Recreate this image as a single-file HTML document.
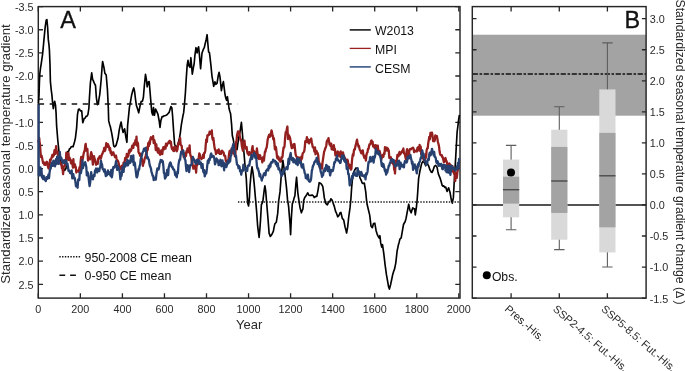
<!DOCTYPE html>
<html><head><meta charset="utf-8"><style>
html,body{margin:0;padding:0;background:#fff;width:685px;height:371px;overflow:hidden}
svg{display:block;will-change:transform}
</style></head><body>
<svg width="685" height="371" viewBox="0 0 685 371" font-family='"Liberation Sans", sans-serif'><rect width="685" height="371" fill="#fff"/><rect x="38.3" y="6.6" width="421.7" height="291.5" fill="none" stroke="#262626" stroke-width="1.45"/><path d="M38.3,6.60h4.7M460.0,6.60h-4.7M38.3,29.74h4.7M460.0,29.74h-4.7M38.3,52.88h4.7M460.0,52.88h-4.7M38.3,76.02h4.7M460.0,76.02h-4.7M38.3,99.16h4.7M460.0,99.16h-4.7M38.3,122.30h4.7M460.0,122.30h-4.7M38.3,145.44h4.7M460.0,145.44h-4.7M38.3,168.58h4.7M460.0,168.58h-4.7M38.3,191.72h4.7M460.0,191.72h-4.7M38.3,214.86h4.7M460.0,214.86h-4.7M38.3,238.00h4.7M460.0,238.00h-4.7M38.3,261.14h4.7M460.0,261.14h-4.7M38.3,284.28h4.7M460.0,284.28h-4.7M38.30,298.1v-4.8M38.30,6.6v4.8M80.35,298.1v-4.8M80.35,6.6v4.8M122.40,298.1v-4.8M122.40,6.6v4.8M164.45,298.1v-4.8M164.45,6.6v4.8M206.50,298.1v-4.8M206.50,6.6v4.8M248.55,298.1v-4.8M248.55,6.6v4.8M290.60,298.1v-4.8M290.60,6.6v4.8M332.65,298.1v-4.8M332.65,6.6v4.8M374.70,298.1v-4.8M374.70,6.6v4.8M416.75,298.1v-4.8M416.75,6.6v4.8M458.80,298.1v-4.8M458.80,6.6v4.8" stroke="#262626" stroke-width="1.3" fill="none"/><polyline points="38.5,103.3 39.0,95.1 39.4,82.6 39.8,73.8 40.5,68.2 41.2,63.8 42.5,54.8 43.2,47.9 44.0,39.1 45.2,26.9 46.2,20.2 46.9,19.6 47.6,27.0 48.3,39.4 49.0,45.1 49.4,49.9 50.0,64.5 50.4,81.5 51.2,89.6 51.9,94.9 52.6,102.8 53.3,108.7 54.0,103.8 54.7,101.3 55.5,105.1 56.1,113.4 56.6,125.7 57.8,140.3 58.9,151.0 60.3,160.9 61.1,162.5 62.0,165.7 63.3,168.1 64.6,170.5 66.0,168.5 67.4,152.0 68.8,151.0 69.5,148.8 70.3,148.5 71.2,146.7 72.2,146.6 73.1,146.7 74.5,142.0 75.4,138.1 76.6,128.1 77.5,114.4 78.5,109.2 79.5,109.1 80.4,111.0 81.7,110.9 82.8,122.7 84.2,118.6 85.1,118.1 86.0,116.4 87.0,116.2 87.9,114.7 88.9,108.0 89.4,98.2 90.4,82.8 91.7,72.8 92.6,79.3 93.5,81.1 94.5,83.7 95.5,85.5 96.4,98.0 97.4,104.7 98.3,103.6 99.0,98.9 99.8,94.1 101.1,80.5 102.1,66.8 102.6,61.5 104.0,67.8 104.9,73.3 106.2,75.0 107.4,89.1 108.3,107.8 108.7,120.9 109.6,124.4 110.3,126.5 111.7,133.2 112.7,139.0 113.7,146.0 114.8,146.8 116.0,145.4 117.0,142.1 118.0,138.6 119.2,130.2 120.3,125.0 121.1,122.0 122.2,128.4 123.1,132.5 123.8,130.8 124.6,128.8 126.0,137.8 126.9,142.3 127.6,125.7 128.5,116.7 129.4,107.4 130.3,102.8 131.7,94.7 132.9,90.2 133.8,87.9 134.6,91.5 135.5,99.2 136.4,105.6 137.6,109.0 138.7,112.8 139.9,106.5 141.1,101.6 142.5,101.1 143.4,97.2 144.3,86.3 145.5,74.4 146.4,79.5 147.2,86.8 148.3,81.9 149.2,81.5 150.0,91.2 150.9,102.1 151.8,112.3 152.7,115.0 153.5,107.5 154.4,115.3 155.6,109.1 156.9,111.9 157.9,114.1 159.2,121.0 160.0,127.4 160.9,120.4 162.1,116.6 163.0,116.7 163.9,115.9 164.8,115.8 165.6,115.5 167.0,114.8 167.9,113.7 169.1,112.4 170.0,109.4 170.9,106.5 171.9,108.0 172.6,116.0 173.7,132.3 174.6,144.2 176.0,147.7 177.0,146.3 178.0,144.1 179.2,139.8 180.3,133.1 181.3,125.1 181.9,121.7 182.8,116.5 183.7,112.4 184.5,103.9 185.4,92.8 186.3,77.9 187.2,64.9 188.0,60.3 188.9,65.8 190.0,67.3 190.9,57.7 192.3,74.2 193.4,67.6 194.2,63.3 194.9,55.3 196.0,47.7 197.1,52.9 197.8,48.7 198.6,46.8 199.4,54.7 200.6,68.8 202.0,53.0 203.4,49.2 204.3,47.6 205.1,44.0 206.2,39.5 207.1,34.7 208.0,45.3 208.6,52.0 209.4,52.4 210.2,58.8 210.9,65.2 212.0,76.3 212.8,80.8 213.7,86.3 214.9,81.9 216.0,84.3 217.1,83.1 218.2,76.0 219.1,72.3 220.0,76.9 221.4,90.6 222.4,85.2 223.4,81.6 224.3,88.9 225.1,95.0 225.8,98.1 226.6,100.3 227.4,96.7 228.3,103.0 229.1,108.8 229.8,111.3 230.6,113.8 231.6,124.6 232.3,135.5 233.4,140.0 234.4,147.6 235.7,147.2 237.1,149.6 237.8,144.0 238.6,138.7 240.0,131.8 241.4,122.4 242.3,132.3 243.4,146.0 244.3,156.7 245.1,166.7 246.3,178.6 247.0,192.6 247.7,203.2 248.6,205.9 249.4,198.2 250.0,185.9 251.0,174.6 252.0,166.8 253.0,172.6 253.7,178.6 254.5,187.1 255.3,196.5 256.6,211.4 257.7,226.7 259.1,237.4 260.0,227.6 260.6,218.7 261.4,204.5 262.1,203.5 262.9,201.0 264.3,189.4 264.9,185.8 265.7,190.9 266.6,202.2 268.0,218.7 269.1,233.1 270.3,236.4 271.1,235.4 272.0,234.2 273.4,231.2 274.1,227.1 274.9,223.8 276.3,222.3 277.7,213.4 278.6,201.5 280.0,191.9 281.3,175.0 282.1,168.1 282.9,160.4 284.0,168.0 285.1,175.2 286.5,187.6 287.5,199.4 288.6,206.4 290.0,223.5 290.6,234.7 291.4,217.3 292.3,203.9 293.4,200.9 294.1,198.1 294.9,195.7 295.8,184.7 296.6,177.2 297.3,186.0 297.8,192.5 298.6,198.4 300.0,207.6 301.4,212.8 302.1,210.7 302.9,209.1 303.7,200.6 304.7,197.5 305.7,196.2 306.7,194.6 307.7,192.8 308.9,195.2 310.0,195.5 311.0,195.4 312.0,194.9 313.1,195.6 314.3,197.5 315.7,196.3 316.8,196.4 318.0,190.3 319.2,182.7 320.4,183.2 321.6,184.4 322.8,186.7 323.6,192.1 324.3,197.7 325.7,203.2 326.5,204.2 327.4,204.8 328.2,203.0 329.1,201.3 330.0,201.2 330.9,198.8 331.9,199.8 332.9,202.5 334.3,206.4 335.5,211.1 336.6,213.5 337.7,216.8 338.5,216.2 339.4,214.7 340.1,212.7 340.9,212.4 342.3,218.4 343.7,220.0 345.1,227.2 345.9,229.8 346.6,233.0 347.7,226.8 348.6,218.0 350.0,207.9 350.9,199.0 351.6,188.3 352.9,174.1 353.9,171.9 354.9,169.7 356.0,167.9 357.1,168.4 357.9,169.2 358.6,170.9 360.0,177.9 361.4,180.8 362.1,182.9 362.9,183.5 364.3,183.0 365.7,191.7 366.6,200.8 367.1,204.3 368.4,209.7 369.7,215.1 371.0,226.1 372.3,227.7 373.5,223.5 374.8,223.2 376.1,230.7 377.0,233.6 377.9,235.9 379.2,238.1 379.9,235.7 380.7,242.9 381.7,247.1 382.5,244.7 383.8,253.7 385.1,264.8 386.4,274.4 387.6,281.2 388.5,286.4 389.4,289.1 390.7,284.2 392.0,278.0 392.8,274.2 393.7,271.2 394.6,268.9 395.8,262.8 397.1,251.2 398.4,244.8 399.1,242.4 399.9,239.1 401.2,237.8 402.3,231.4 403.5,224.5 404.3,223.0 405.1,221.7 406.1,218.2 407.4,211.1 408.7,204.2 409.9,210.2 411.2,212.8 412.0,210.1 412.8,207.8 413.7,208.8 414.6,208.9 415.3,214.9 416.4,207.1 417.1,200.5 417.6,193.8 418.6,178.7 420.0,170.7 421.4,164.6 422.1,162.6 422.9,161.4 424.3,162.5 425.7,165.8 427.1,162.5 427.9,164.8 428.6,165.7 430.0,169.9 431.4,172.2 432.1,172.4 432.9,170.7 434.3,166.4 435.7,165.4 437.1,167.4 437.9,171.7 438.6,174.7 440.0,177.8 441.4,182.5 442.1,185.2 442.9,186.1 443.8,185.8 444.8,187.5 445.7,187.1 447.1,191.5 447.9,189.3 448.6,187.8 450.0,192.2 451.4,200.3 452.3,203.1 453.4,197.4 454.3,180.4 455.7,157.4 457.1,132.1 457.9,126.1 458.6,119.9 459.4,115.0" fill="none" stroke="#000" stroke-width="1.65" stroke-linejoin="round"/><polyline points="38.3,140.2 38.7,142.4 39.2,137.9 39.6,141.7 40.0,144.8 40.4,150.5 40.9,157.0 41.5,155.6 42.0,157.4 42.6,160.6 43.1,163.0 43.7,162.3 44.2,164.6 44.8,162.6 45.3,164.9 45.8,164.5 46.4,162.4 46.9,161.8 47.4,162.9 48.0,167.0 48.5,168.5 49.0,166.0 49.6,164.7 50.1,159.7 50.7,160.1 51.2,158.5 51.8,157.4 52.3,155.0 52.9,156.7 53.4,154.3 53.9,155.4 54.5,150.2 55.0,149.9 55.5,153.8 56.1,146.1 56.6,151.0 57.1,151.7 57.7,152.0 58.2,155.2 58.7,158.1 59.3,161.8 59.8,161.9 60.4,162.8 60.9,164.4 61.5,165.2 62.0,168.7 62.6,168.9 63.1,174.2 63.6,166.7 64.2,166.6 64.7,165.3 65.2,159.8 65.8,164.5 66.3,152.7 66.8,156.4 67.4,155.4 67.9,159.2 68.5,153.0 69.0,160.2 69.6,157.6 70.1,159.8 70.6,159.7 71.0,163.3 71.5,160.7 72.0,163.8 72.5,164.7 73.0,167.7 73.4,159.2 73.9,167.1 74.4,165.9 74.9,164.3 75.4,167.2 75.8,167.0 76.3,172.5 76.8,170.9 77.4,170.6 77.9,171.1 78.5,171.7 79.0,170.1 79.6,167.1 80.1,171.3 80.6,161.8 81.2,156.8 81.7,162.2 82.2,159.9 82.8,158.8 83.3,155.5 83.8,152.9 84.4,151.2 84.9,149.7 85.3,145.3 85.7,143.9 86.3,150.6 86.8,149.9 87.4,149.0 88.0,160.5 88.5,159.1 89.1,157.9 89.6,158.4 90.1,159.2 90.7,154.8 91.2,152.2 91.8,154.4 92.3,158.7 92.9,164.6 93.4,159.9 94.0,156.2 94.5,158.8 95.0,159.3 95.6,162.5 96.1,164.8 96.6,162.6 97.2,163.2 97.7,163.9 98.2,158.5 98.8,158.9 99.3,157.0 99.8,156.2 100.4,157.0 100.9,158.6 101.5,155.9 102.0,154.3 102.6,153.5 103.1,151.5 103.7,151.2 104.2,147.8 104.7,151.2 105.3,150.0 105.8,147.1 106.3,143.2 106.9,146.2 107.4,146.8 107.9,144.2 108.5,145.8 109.0,146.7 109.6,150.2 110.1,148.1 110.7,153.0 111.2,151.5 111.8,155.0 112.3,154.4 112.8,154.4 113.4,152.4 113.9,154.5 114.4,155.4 115.0,157.2 115.5,156.4 116.0,155.6 116.6,158.9 117.1,161.1 117.6,160.4 118.2,161.5 118.7,163.2 119.3,167.2 119.8,168.3 120.4,166.9 120.9,169.0 121.5,166.8 122.0,165.7 122.5,168.6 123.1,166.7 123.6,162.6 124.1,162.5 124.7,161.7 125.2,157.8 125.7,158.3 126.3,159.4 126.8,153.9 127.4,157.1 127.9,156.8 128.5,155.3 129.0,150.5 129.6,152.7 130.1,149.3 130.6,151.1 131.2,150.1 131.7,148.2 132.2,145.7 132.8,145.6 133.3,147.9 133.8,143.3 134.4,145.0 134.9,143.9 135.4,140.2 136.0,143.4 136.5,136.6 136.9,145.6 137.4,142.2 138.0,143.3 138.5,151.9 139.1,153.4 139.6,153.7 140.1,155.8 140.7,153.7 141.2,157.8 141.8,158.7 142.3,161.9 142.9,165.8 143.4,163.0 144.0,162.5 144.5,159.3 145.0,157.7 145.6,156.7 146.1,153.7 146.6,154.1 147.2,147.1 147.7,150.0 148.2,143.1 148.8,146.1 149.3,141.4 149.8,144.1 150.4,138.9 150.9,137.3 151.5,139.1 152.0,137.4 152.6,137.6 153.1,136.2 153.7,143.2 154.2,139.9 154.7,141.7 155.3,144.5 155.8,150.2 156.3,144.3 156.9,149.9 157.4,150.2 157.9,152.6 158.5,148.5 159.0,151.9 159.6,153.8 160.1,154.7 160.7,154.2 161.2,150.4 161.8,153.3 162.3,154.1 162.8,149.4 163.4,147.1 163.9,149.3 164.4,147.8 165.0,146.4 165.5,148.6 166.0,143.7 166.6,146.2 167.1,144.6 167.6,143.4 168.2,143.4 168.7,141.7 169.3,141.3 169.8,140.8 170.4,143.6 170.9,141.8 171.5,147.1 172.0,149.0 172.5,147.6 173.1,150.5 173.6,147.7 174.1,151.2 174.7,146.7 175.2,146.8 175.7,149.0 176.3,150.5 176.8,151.2 177.4,149.6 177.9,145.8 178.5,142.7 179.0,144.1 179.6,141.9 180.1,137.8 180.6,144.3 181.2,145.5 181.7,145.9 182.2,151.4 182.8,150.5 183.3,154.1 183.8,157.2 184.4,153.9 184.9,157.6 185.4,153.2 186.0,155.8 186.5,151.2 187.0,152.4 187.5,148.4 188.0,150.0 188.5,152.1 189.1,150.5 189.6,145.4 190.1,153.6 190.7,156.3 191.2,156.4 191.8,163.3 192.3,161.5 192.9,166.7 193.4,168.6 194.0,168.5 194.5,167.9 195.0,165.3 195.6,166.1 196.1,172.6 196.6,165.7 197.2,165.1 197.7,159.5 198.2,161.0 198.8,157.2 199.3,153.5 199.8,154.6 200.4,156.8 200.9,158.2 201.5,159.0 202.0,158.2 202.6,158.1 203.1,154.7 203.7,157.8 204.2,153.0 204.7,153.0 205.3,150.7 205.8,144.1 206.3,139.3 206.9,141.9 207.4,135.4 207.9,135.8 208.5,134.6 209.0,134.9 209.6,131.7 210.1,133.3 210.7,132.0 211.2,134.0 211.8,130.4 212.3,137.8 212.8,139.6 213.4,138.1 213.9,142.8 214.4,146.5 215.0,149.8 215.5,150.7 216.0,154.0 216.6,151.9 217.1,150.4 217.6,150.5 218.2,152.8 218.7,149.5 219.3,152.9 219.8,153.9 220.4,153.6 220.9,153.9 221.5,150.9 222.0,150.7 222.5,151.1 223.1,152.7 223.6,152.5 224.1,155.6 224.7,155.6 225.2,155.9 225.7,160.2 226.3,161.9 226.8,161.4 227.4,163.2 227.9,160.7 228.5,159.3 229.0,154.4 229.6,151.0 230.1,153.5 230.6,151.4 231.2,150.6 231.7,148.3 232.2,151.7 232.8,150.2 233.3,153.7 233.8,152.2 234.4,151.0 234.9,156.3 235.4,154.3 236.0,142.0 236.5,141.4 237.0,135.3 237.5,133.2 238.0,131.4 238.5,132.8 239.1,131.6 239.6,134.9 240.1,137.6 240.7,140.5 241.2,139.5 241.8,145.7 242.3,148.1 242.9,150.7 243.4,142.7 244.0,145.2 244.5,140.6 245.0,146.7 245.6,148.6 246.1,146.8 246.6,147.0 247.2,151.7 247.7,153.7 248.2,152.4 248.8,155.1 249.3,152.1 249.8,154.2 250.4,154.3 250.9,152.7 251.5,155.0 252.0,149.0 252.6,146.2 253.1,152.2 253.7,150.7 254.2,153.0 254.7,153.3 255.3,152.5 255.8,153.6 256.3,154.0 256.9,148.5 257.4,152.3 257.9,158.0 258.5,154.8 259.0,159.1 259.6,156.6 260.1,155.3 260.7,158.8 261.2,159.3 261.8,158.4 262.3,162.3 262.8,157.3 263.4,157.9 263.9,160.6 264.4,156.2 265.0,151.3 265.5,151.6 266.0,148.7 266.6,147.9 267.1,144.6 267.6,140.0 268.2,137.4 268.7,135.9 269.3,134.6 269.8,136.9 270.4,136.1 270.9,134.0 271.5,130.5 271.9,131.4 272.4,135.8 272.8,135.5 273.3,139.4 273.9,138.3 274.4,143.5 274.9,149.3 275.5,146.5 276.0,147.7 276.5,152.0 277.1,157.3 277.6,158.5 278.2,156.5 278.7,157.9 279.3,160.3 279.8,159.2 280.4,161.6 280.9,161.5 281.4,157.5 282.0,157.7 282.5,156.7 283.0,151.7 283.6,147.4 284.1,147.7 284.6,145.4 285.2,136.7 285.7,132.1 286.3,132.3 286.8,129.2 287.4,126.5 288.0,139.0 288.5,134.7 289.1,135.8 289.6,136.5 290.1,138.2 290.7,141.7 291.2,145.5 291.8,148.2 292.3,147.8 292.9,147.6 293.4,144.5 294.0,146.3 294.5,144.0 295.0,148.9 295.6,154.3 296.1,156.0 296.6,156.8 297.2,157.4 297.7,160.5 298.2,160.2 298.8,157.5 299.3,157.8 299.8,161.7 300.4,157.7 300.9,161.2 301.5,156.5 302.0,158.7 302.6,153.6 303.1,152.9 303.7,152.1 304.2,151.3 304.7,148.1 305.3,141.1 305.8,141.5 306.3,141.7 306.9,137.1 307.4,141.0 307.9,142.4 308.5,139.6 309.0,143.4 309.6,142.1 310.1,140.0 310.7,140.2 311.2,138.5 311.8,142.2 312.3,144.8 312.8,147.3 313.4,147.6 313.9,148.6 314.4,151.6 315.0,147.3 315.5,154.3 316.0,152.3 316.6,151.0 317.1,153.1 317.6,153.0 318.2,155.3 318.7,161.4 319.3,162.7 319.8,167.8 320.4,166.7 320.9,164.8 321.5,164.5 322.0,168.7 322.5,162.7 323.1,158.7 323.6,155.2 324.1,151.8 324.7,150.4 325.2,148.4 325.7,147.6 326.3,145.5 326.8,141.5 327.4,140.2 327.9,140.4 328.5,138.1 329.0,141.2 329.6,144.6 330.1,143.6 330.6,146.1 331.2,143.7 331.7,149.3 332.2,148.6 332.8,148.7 333.3,149.9 333.8,145.2 334.4,149.1 334.9,148.9 335.4,155.4 336.0,152.5 336.5,153.0 337.0,155.4 337.6,151.3 338.1,155.9 338.6,152.2 339.2,154.1 339.7,152.9 340.3,156.9 340.8,151.5 341.3,156.9 341.9,153.6 342.4,155.1 343.0,152.4 343.5,154.9 344.0,155.9 344.6,157.7 345.1,158.3 345.7,160.0 346.2,161.8 346.7,160.1 347.3,159.6 347.8,160.5 348.4,165.5 348.9,164.4 349.4,168.0 349.9,166.6 350.4,165.2 350.9,169.7 351.4,168.8 351.9,161.5 352.4,156.9 352.9,154.1 353.4,155.6 353.9,150.7 354.4,149.1 354.9,149.4 355.4,146.3 355.9,144.7 356.5,141.7 357.0,139.7 357.5,142.8 358.0,144.3 358.5,146.7 359.0,146.0 359.5,148.9 360.0,150.3 360.5,150.7 361.0,152.8 361.4,153.3 361.9,151.2 362.3,150.6 362.8,150.5 363.4,155.1 363.9,156.3 364.4,157.9 364.9,155.8 365.4,157.6 365.9,160.5 366.4,155.3 366.9,153.1 367.5,152.3 368.0,148.8 368.6,148.7 369.1,145.7 369.6,144.2 370.1,144.5 370.6,143.0 371.1,140.8 371.6,140.4 372.1,143.5 372.6,141.8 373.1,146.5 373.6,144.8 374.2,146.1 374.7,148.2 375.3,148.3 375.8,145.1 376.3,147.9 376.8,149.8 377.3,147.5 377.8,145.6 378.2,150.3 378.7,150.5 379.2,151.5 379.6,150.9 380.1,153.1 380.7,155.5 381.2,159.9 381.8,157.6 382.3,157.2 382.9,154.8 383.4,156.8 384.0,153.1 384.5,153.9 385.0,147.1 385.6,150.7 386.1,148.9 386.6,147.6 387.2,150.6 387.7,148.3 388.2,149.4 388.8,150.8 389.3,157.8 389.8,157.1 390.4,158.5 390.9,157.3 391.5,162.5 392.0,162.1 392.6,161.6 393.1,164.0 393.7,163.1 394.2,169.8 394.6,168.0 395.0,173.5 395.4,166.1 395.8,160.9 396.3,161.2 396.9,159.3 397.4,154.9 397.9,156.0 398.5,156.3 399.0,153.5 399.6,151.9 400.1,154.6 400.7,153.7 401.2,152.8 401.8,152.4 402.3,150.6 402.8,150.8 403.4,148.5 403.9,153.1 404.4,153.6 405.0,154.8 405.5,157.5 406.0,159.4 406.6,151.4 407.1,149.2 407.6,155.0 408.2,153.0 408.7,158.2 409.3,150.9 409.8,149.2 410.4,149.2 410.9,149.3 411.5,148.4 412.0,148.4 412.5,147.8 413.1,147.7 413.6,148.7 414.1,152.2 414.7,151.6 415.2,150.7 415.7,150.8 416.3,151.3 416.8,151.5 417.4,148.0 418.0,147.3 418.5,147.1 419.1,150.6 419.6,144.8 420.1,149.5 420.7,146.6 421.2,154.1 421.8,151.7 422.3,154.5 422.9,157.5 423.4,159.1 424.0,160.3 424.5,161.2 425.0,158.2 425.6,154.2 426.1,157.6 426.6,150.5 427.2,148.3 427.7,148.3 428.2,143.5 428.8,140.0 429.3,136.8 429.8,139.4 430.4,133.0 430.9,132.7 431.5,136.0 432.0,132.7 432.6,136.3 433.1,141.1 433.7,139.0 434.2,141.3 434.7,140.8 435.3,135.5 435.8,136.7 436.3,136.0 436.9,136.2 437.4,138.9 437.9,142.0 438.5,144.0 439.0,146.2 439.6,151.6 440.1,154.1 440.7,155.1 441.2,155.4 441.8,155.1 442.3,157.2 442.8,157.2 443.4,160.3 443.9,162.3 444.4,161.7 445.0,159.3 445.5,158.0 446.0,160.3 446.6,161.2 447.1,163.3 447.6,166.6 448.2,163.9 448.7,171.0 449.3,163.3 449.8,164.4 450.4,165.5 450.9,165.4 451.5,165.9 452.0,169.4 452.5,166.1 453.1,171.8 453.6,171.1 454.1,173.7 454.7,173.0 455.2,181.1 455.7,175.5 456.3,173.2 456.8,177.9 457.4,171.6 457.9,169.9 458.5,166.6 459.1,162.9 459.7,162.1" fill="none" stroke="#941f1f" stroke-width="2.3" stroke-linejoin="round"/><polyline points="38.7,104.0 38.7,150.0 38.7,175.6 39.3,173.7 39.8,175.3 40.4,167.4 40.9,172.8 41.5,169.7 42.0,177.5 42.6,176.2 43.1,179.1 43.7,175.9 44.2,179.3 44.8,179.6 45.3,180.3 45.8,181.0 46.4,177.1 46.9,177.8 47.4,178.8 48.0,176.5 48.5,174.5 49.0,178.1 49.6,172.2 50.1,169.3 50.7,168.7 51.2,165.1 51.8,163.2 52.3,162.2 52.9,165.9 53.4,160.7 53.9,161.6 54.5,163.2 55.0,166.4 55.5,160.9 56.1,159.0 56.6,164.0 57.1,156.7 57.7,159.4 58.2,162.0 58.7,163.9 59.3,156.1 59.8,151.8 60.4,158.8 60.9,157.3 61.5,158.3 62.0,161.1 62.6,161.7 63.1,163.0 63.6,160.4 64.2,162.8 64.7,162.1 65.2,160.3 65.8,160.4 66.3,163.9 66.8,165.0 67.4,163.5 67.9,166.3 68.5,170.9 69.0,170.3 69.6,171.4 70.1,173.1 70.7,173.1 71.2,173.7 71.7,170.4 72.3,178.3 72.8,175.7 73.3,174.1 73.9,178.3 74.4,177.5 74.9,178.6 75.5,182.3 76.0,186.3 76.5,183.4 77.1,186.0 77.6,187.7 78.2,179.7 78.7,179.1 79.3,180.1 79.8,172.4 80.4,172.6 80.9,173.1 81.4,170.4 82.0,167.3 82.5,160.2 83.0,168.2 83.6,164.0 84.1,163.9 84.6,165.0 85.2,162.2 85.7,164.3 86.3,166.9 86.8,175.4 87.4,172.0 88.0,173.2 88.5,177.0 89.1,182.4 89.6,186.0 90.1,183.4 90.7,178.1 91.2,172.2 91.8,178.3 92.3,178.0 92.9,179.4 93.4,176.2 94.0,174.6 94.5,176.1 95.0,170.6 95.6,170.0 96.1,168.5 96.6,170.0 97.2,172.5 97.7,168.7 98.2,170.6 98.8,169.9 99.3,171.1 99.8,168.0 100.4,166.7 100.9,160.7 101.5,163.7 102.0,164.1 102.6,168.9 103.1,169.1 103.7,170.6 104.2,171.9 104.7,169.3 105.3,173.1 105.8,176.0 106.3,172.6 106.9,175.3 107.4,173.4 107.9,170.5 108.5,173.9 109.0,172.1 109.6,174.5 110.1,173.8 110.7,175.9 111.2,170.0 111.8,177.3 112.3,174.8 112.8,169.8 113.4,167.0 113.9,167.2 114.4,167.5 115.0,165.9 115.5,164.8 116.0,161.1 116.6,163.9 117.1,169.9 117.6,168.8 118.2,166.4 118.7,168.8 119.3,169.7 119.8,172.7 120.4,179.3 120.9,174.9 121.5,176.0 122.0,172.5 122.5,167.4 123.1,167.5 123.6,171.8 124.1,164.6 124.7,162.9 125.2,166.5 125.7,163.6 126.3,162.9 126.8,165.4 127.4,159.9 127.9,165.4 128.5,163.5 129.0,161.1 129.6,160.7 130.1,163.0 130.6,159.9 131.2,155.9 131.7,156.8 132.2,161.7 132.8,160.1 133.3,155.3 133.8,165.2 134.4,162.2 134.9,163.2 135.4,168.0 136.0,172.9 136.5,177.0 136.9,177.4 137.4,176.0 137.9,173.3 138.5,169.1 139.1,169.5 139.6,166.0 140.1,165.0 140.7,159.2 141.2,158.0 141.8,155.7 142.3,153.4 142.9,151.9 143.4,150.6 144.0,148.6 144.5,150.6 145.0,150.1 145.6,147.8 146.1,152.0 146.6,153.8 147.2,158.3 147.7,157.1 148.2,158.7 148.8,159.4 149.3,162.7 149.8,165.5 150.4,167.0 150.9,168.3 151.5,172.1 152.0,173.3 152.6,175.8 153.1,175.6 153.7,180.1 154.2,179.8 154.7,177.9 155.3,177.8 155.8,179.6 156.3,175.2 156.9,171.0 157.4,168.4 157.9,169.8 158.5,169.5 159.0,168.1 159.6,163.6 160.1,162.7 160.7,160.0 161.2,160.7 161.8,160.1 162.3,161.9 162.8,161.2 163.4,166.4 163.9,173.0 164.4,172.9 165.0,178.6 165.5,177.6 166.0,176.7 166.6,175.6 167.1,170.0 167.6,169.5 168.2,175.0 168.7,167.4 169.3,165.2 169.8,163.4 170.4,162.5 170.9,163.4 171.5,166.5 172.0,167.2 172.5,166.9 173.1,169.2 173.6,169.2 174.1,169.6 174.7,171.7 175.2,175.2 175.7,174.5 176.3,176.4 176.8,177.2 177.4,171.7 177.9,173.1 178.5,164.5 179.0,161.6 179.6,159.3 180.1,159.8 180.6,155.1 181.2,151.7 181.7,151.9 182.2,153.3 182.8,150.8 183.3,150.5 183.8,155.4 184.4,157.3 184.9,159.4 185.4,160.3 186.0,166.7 186.5,171.2 187.0,165.1 187.5,169.5 188.0,165.5 188.5,165.7 189.1,172.1 189.6,168.8 190.1,165.4 190.7,165.2 191.2,164.9 191.8,163.7 192.3,160.3 192.9,157.0 193.4,158.5 194.0,159.3 194.5,160.0 195.0,162.6 195.6,162.2 196.1,163.8 196.6,160.9 197.2,159.8 197.7,160.1 198.2,160.3 198.8,163.9 199.3,160.3 199.8,163.6 200.4,164.1 200.9,162.6 201.5,167.9 202.0,167.8 202.6,164.2 203.1,170.8 203.7,172.6 204.2,170.2 204.7,176.3 205.3,174.3 205.8,172.6 206.3,173.4 206.9,168.9 207.4,164.2 207.9,160.4 208.5,163.1 209.0,159.0 209.6,160.2 210.1,158.0 210.7,154.5 211.2,153.5 211.8,157.1 212.3,155.9 212.8,156.1 213.4,155.9 213.9,156.8 214.4,159.1 215.0,164.4 215.5,163.0 216.0,161.0 216.6,158.5 217.1,160.8 217.6,159.8 218.2,162.7 218.7,165.2 219.3,164.8 219.8,161.9 220.4,159.8 220.9,162.0 221.5,166.3 222.0,164.5 222.5,160.3 223.1,165.8 223.6,162.6 224.1,170.3 224.7,163.3 225.2,165.1 225.7,165.2 226.3,167.1 226.8,165.7 227.4,162.8 227.9,160.9 228.5,163.4 229.0,160.5 229.6,158.2 230.1,161.5 230.6,156.7 231.2,155.1 231.7,149.7 232.2,149.2 232.8,146.0 233.3,143.9 233.8,148.5 234.4,150.9 234.9,153.0 235.4,155.9 236.0,155.9 236.5,160.6 237.0,164.5 237.5,164.6 238.0,165.3 238.5,168.2 239.1,166.1 239.6,167.1 240.1,171.4 240.7,170.0 241.2,174.7 241.8,171.8 242.3,171.2 242.9,170.8 243.4,164.7 244.0,169.5 244.5,167.6 245.0,168.7 245.6,168.9 246.1,171.0 246.6,167.9 247.2,170.8 247.7,165.8 248.2,165.7 248.8,165.0 249.3,165.6 249.8,162.0 250.4,159.2 250.9,158.1 251.5,154.9 252.0,159.2 252.6,157.1 253.1,155.9 253.7,155.1 254.2,152.8 254.7,154.2 255.3,157.8 255.8,155.6 256.3,158.3 256.9,165.8 257.4,168.5 257.9,168.1 258.5,170.7 259.0,172.2 259.6,176.3 260.1,174.1 260.7,176.8 261.2,178.1 261.8,180.6 262.3,177.8 262.8,177.7 263.4,175.1 263.9,173.7 264.4,173.1 265.0,174.1 265.5,175.2 266.0,170.9 266.6,170.1 267.1,169.4 267.6,170.3 268.2,170.5 268.7,166.0 269.3,168.1 269.8,164.4 270.4,166.7 270.9,162.8 271.5,162.1 272.0,162.3 272.5,162.5 273.1,159.6 273.6,160.9 274.1,160.8 274.7,160.7 275.2,161.0 275.7,163.9 276.3,162.2 276.8,165.3 277.4,166.3 277.9,163.3 278.5,169.3 279.0,168.1 279.6,169.3 280.1,170.9 280.6,173.1 281.2,174.6 281.7,176.0 282.2,172.5 282.8,174.3 283.3,172.6 283.8,169.9 284.4,169.6 284.9,170.1 285.4,168.8 286.0,168.8 286.5,167.1 287.0,168.1 287.5,169.2 288.0,164.6 288.5,158.9 289.1,163.9 289.6,157.7 290.1,155.5 290.7,153.0 291.2,158.1 291.8,159.9 292.3,160.3 292.9,158.0 293.4,162.3 294.0,159.8 294.5,159.3 295.0,161.7 295.6,163.1 296.1,163.8 296.6,164.0 297.2,158.2 297.7,165.2 298.2,160.4 298.8,162.3 299.3,158.9 299.8,162.4 300.4,163.3 300.9,162.1 301.5,166.6 302.0,167.6 302.6,164.7 303.1,164.3 303.7,168.9 304.2,170.1 304.7,173.1 305.3,173.9 305.8,178.2 306.3,177.6 306.9,177.2 307.4,179.3 307.9,174.6 308.5,179.9 309.0,181.2 309.6,181.8 310.1,181.6 310.7,180.4 311.2,178.0 311.8,171.0 312.3,169.1 312.8,166.6 313.4,165.3 313.9,164.3 314.4,162.1 315.0,162.0 315.5,160.4 316.0,161.4 316.6,158.1 317.1,157.8 317.6,164.0 318.2,161.7 318.7,163.1 319.3,166.4 319.8,164.4 320.4,169.9 320.9,172.2 321.5,173.7 322.0,176.9 322.5,175.5 323.1,175.2 323.6,170.5 324.1,171.6 324.7,168.5 325.2,171.0 325.7,168.2 326.3,164.8 326.8,167.1 327.4,166.0 327.9,171.1 328.5,169.5 329.0,166.9 329.6,171.6 330.1,175.4 330.6,173.0 331.2,170.0 331.7,171.5 332.2,170.2 332.8,170.9 333.3,168.7 333.8,166.0 334.4,162.1 334.9,162.7 335.4,161.1 336.0,158.9 336.5,158.0 337.0,155.7 337.6,160.1 338.1,159.8 338.6,161.2 339.1,161.0 339.6,161.2 340.1,163.0 340.6,162.7 341.1,159.2 341.6,159.1 342.1,155.6 342.6,158.3 343.1,157.8 343.7,155.6 344.2,160.8 344.7,158.4 345.2,162.0 345.7,160.9 346.2,161.8 346.7,168.9 347.2,167.1 347.7,168.1 348.2,174.2 348.7,173.9 349.2,178.9 349.7,185.4 350.2,183.3 350.7,182.8 351.2,181.2 351.7,178.5 352.2,175.8 352.7,178.1 353.1,174.0 353.6,174.0 354.1,174.0 354.6,171.8 355.1,175.4 355.6,175.4 356.1,175.8 356.6,175.0 357.1,175.9 357.6,168.2 358.1,171.4 358.6,172.1 359.1,171.8 359.6,174.8 360.1,174.2 360.7,175.1 361.2,172.0 361.8,173.7 362.3,175.9 362.8,175.4 363.4,175.3 363.9,176.5 364.5,176.5 365.0,175.2 365.5,179.3 366.1,173.3 366.6,174.6 367.1,173.2 367.6,171.2 368.1,165.5 368.6,161.9 369.1,162.1 369.6,162.0 370.1,157.2 370.6,157.0 371.1,161.4 371.6,160.7 372.1,160.0 372.6,160.3 373.1,156.6 373.6,162.7 374.2,158.1 374.7,157.8 375.3,154.7 375.8,149.0 376.3,153.2 376.8,151.3 377.3,152.9 377.8,151.5 378.2,154.0 378.7,151.9 379.2,153.9 379.6,155.6 380.1,155.7 380.7,158.0 381.2,161.7 381.8,165.9 382.3,163.3 382.9,166.9 383.4,164.1 384.0,166.5 384.5,169.1 385.0,171.3 385.6,169.7 386.1,174.6 386.6,172.1 387.2,172.7 387.7,170.3 388.2,168.5 388.8,165.6 389.3,165.8 389.8,163.1 390.4,162.6 390.9,160.1 391.5,160.1 392.0,159.1 392.6,160.3 393.1,161.8 393.7,160.0 394.2,163.5 394.7,165.0 395.3,166.6 395.8,165.1 396.3,165.2 396.9,163.5 397.4,165.5 397.9,161.2 398.5,165.2 399.0,160.7 399.6,169.2 400.1,168.2 400.7,162.7 401.2,166.4 401.8,165.2 402.3,165.0 402.8,166.6 403.4,164.6 403.9,167.3 404.4,163.2 405.0,161.0 405.5,161.9 406.0,162.4 406.6,162.6 407.1,161.5 407.6,157.0 408.2,157.7 408.7,158.4 409.3,156.1 409.8,158.1 410.4,154.9 410.9,158.1 411.5,160.2 412.0,163.8 412.5,161.8 413.1,169.9 413.6,165.8 414.1,166.0 414.7,164.4 415.2,168.3 415.7,166.6 416.3,170.8 416.8,173.3 417.4,169.2 418.0,164.1 418.5,166.5 419.1,162.7 419.6,162.0 420.1,160.6 420.7,157.9 421.2,158.0 421.8,153.1 422.3,150.5 422.9,154.7 423.4,153.6 424.0,157.1 424.5,161.1 425.0,161.1 425.6,161.3 426.1,164.9 426.6,161.8 427.2,163.1 427.7,159.6 428.2,158.9 428.8,159.8 429.3,154.1 429.8,152.6 430.4,155.4 430.9,154.9 431.5,151.4 432.0,148.8 432.6,151.5 433.1,152.3 433.7,155.4 434.2,152.0 434.7,156.9 435.3,156.8 435.8,158.3 436.3,162.1 436.9,163.0 437.4,161.1 437.9,162.1 438.5,165.8 439.0,165.0 439.6,164.0 440.1,165.7 440.7,165.5 441.2,163.9 441.8,166.4 442.3,169.0 442.8,169.2 443.4,165.0 443.9,165.3 444.4,166.2 445.0,165.0 445.5,170.6 446.0,169.9 446.6,172.2 447.1,165.9 447.6,168.0 448.2,172.6 448.7,165.7 449.3,166.0 449.8,171.1 450.4,174.9 450.9,170.9 451.5,165.6 452.0,166.4 452.5,167.1 453.1,167.9 453.6,169.2 454.1,169.6 454.7,169.7 455.2,169.6 455.7,170.1 456.3,168.8 456.8,166.5 457.4,169.1 457.9,162.9 458.5,168.2 459.1,158.9 459.7,158.8" fill="none" stroke="#26406f" stroke-width="2.3" stroke-linejoin="round"/><line x1="38.6" y1="104" x2="237.4" y2="104" stroke="#111" stroke-width="1.5" stroke-dasharray="5.5 5.535"/><line x1="237.95" y1="201.9" x2="460.0" y2="201.9" stroke="#1a1a1a" stroke-width="1.5" stroke-dasharray="1.4 1.45"/><g font-size="10.8" fill="#2a2a2a"><text x="33.6" y="10.90" text-anchor="end">-3.5</text><text x="33.6" y="34.04" text-anchor="end">-3.0</text><text x="33.6" y="57.18" text-anchor="end">-2.5</text><text x="33.6" y="80.32" text-anchor="end">-2.0</text><text x="33.6" y="103.46" text-anchor="end">-1.5</text><text x="33.6" y="126.60" text-anchor="end">-1.0</text><text x="33.6" y="149.74" text-anchor="end">-0.5</text><text x="33.6" y="172.88" text-anchor="end">0.0</text><text x="33.6" y="196.02" text-anchor="end">0.5</text><text x="33.6" y="219.16" text-anchor="end">1.0</text><text x="33.6" y="242.30" text-anchor="end">1.5</text><text x="33.6" y="265.44" text-anchor="end">2.0</text><text x="33.6" y="288.58" text-anchor="end">2.5</text><text x="38.30" y="312.9" text-anchor="middle">0</text><text x="80.35" y="312.9" text-anchor="middle">200</text><text x="122.40" y="312.9" text-anchor="middle">400</text><text x="164.45" y="312.9" text-anchor="middle">600</text><text x="206.50" y="312.9" text-anchor="middle">800</text><text x="248.55" y="312.9" text-anchor="middle">1000</text><text x="290.60" y="312.9" text-anchor="middle">1200</text><text x="332.65" y="312.9" text-anchor="middle">1400</text><text x="374.70" y="312.9" text-anchor="middle">1600</text><text x="416.75" y="312.9" text-anchor="middle">1800</text><text x="458.80" y="312.9" text-anchor="middle">2000</text></g><text x="236.0" y="328.9" font-size="13" fill="#2a2a2a">Year</text><text transform="translate(10.2,154.0) rotate(-90)" text-anchor="middle" font-size="13.15" fill="#2a2a2a">Standardized seasonal temperature gradient</text><text x="60.2" y="28.4" font-size="23.5" fill="#111" stroke="#111" stroke-width="0.3">A</text><line x1="349.7" y1="29.9" x2="370.8" y2="29.9" stroke="#1a1a1a" stroke-width="1.6"/><line x1="349.7" y1="48.4" x2="370.8" y2="48.4" stroke="#9a2020" stroke-width="1.3"/><line x1="349.7" y1="66.9" x2="370.8" y2="66.9" stroke="#3a5585" stroke-width="1.6"/><g font-size="12.3" fill="#111"><text x="375" y="35.2">W2013</text><text x="375" y="53.5">MPI</text><text x="375" y="72.6">CESM</text></g><line x1="59.3" y1="256.7" x2="80.2" y2="256.7" stroke="#111" stroke-width="1.5" stroke-dasharray="1.4 1.37"/><line x1="59.4" y1="275.2" x2="75.9" y2="275.2" stroke="#111" stroke-width="1.6" stroke-dasharray="5.8 4.9"/><g font-size="12.4" fill="#111"><text x="84.5" y="262.1">950-2008 CE mean</text><text x="84.5" y="280">0-950 CE mean</text></g><rect x="472.3" y="34.72" width="173.8" height="80.97" fill="#a3a3a3"/><line x1="472.3" y1="204.97" x2="646.1" y2="204.97" stroke="#1a1a1a" stroke-width="1.4"/><line x1="472.7" y1="73.9" x2="646.1" y2="73.9" stroke="#111" stroke-width="1.5" stroke-dasharray="5.2 1.65 2.5 1.65"/><line x1="511.1" y1="145.36" x2="511.1" y2="229.81" stroke="#5e5e5e" stroke-width="1.1"/><path d="M505.90,145.36h10.4M505.90,229.81h10.4" stroke="#5e5e5e" stroke-width="1.1"/><rect x="503.00" y="159.58" width="16.2" height="57.74" fill="#d9d9d9"/><rect x="503.00" y="176.72" width="16.2" height="26.88" fill="#a3a3a3"/><line x1="503.00" y1="189.70" x2="519.20" y2="189.70" stroke="#4a4a4a" stroke-width="1.4"/><line x1="559.3" y1="106.68" x2="559.3" y2="249.67" stroke="#5e5e5e" stroke-width="1.1"/><path d="M554.10,106.68h10.4M554.10,249.67h10.4" stroke="#5e5e5e" stroke-width="1.1"/><rect x="551.20" y="129.72" width="16.2" height="110.02" fill="#d9d9d9"/><rect x="551.20" y="146.92" width="16.2" height="66.00" fill="#a3a3a3"/><line x1="551.20" y1="181.00" x2="567.40" y2="181.00" stroke="#4a4a4a" stroke-width="1.4"/><line x1="607.4" y1="42.92" x2="607.4" y2="267.06" stroke="#5e5e5e" stroke-width="1.1"/><path d="M602.20,42.92h10.4M602.20,267.06h10.4" stroke="#5e5e5e" stroke-width="1.1"/><rect x="599.30" y="89.42" width="16.2" height="162.99" fill="#d9d9d9"/><rect x="599.30" y="132.88" width="16.2" height="94.44" fill="#a3a3a3"/><line x1="599.30" y1="175.79" x2="615.50" y2="175.79" stroke="#4a4a4a" stroke-width="1.4"/><circle cx="511" cy="172.4" r="4" fill="#000"/><rect x="472.3" y="6.6" width="173.8" height="291.5" fill="none" stroke="#262626" stroke-width="1.45"/><path d="M472.3,298.11h4.2M646.1,298.11h-4.2M472.3,267.06h4.2M646.1,267.06h-4.2M472.3,236.01h4.2M646.1,236.01h-4.2M472.3,204.97h4.2M646.1,204.97h-4.2M472.3,173.93h4.2M646.1,173.93h-4.2M472.3,142.88h4.2M646.1,142.88h-4.2M472.3,111.84h4.2M646.1,111.84h-4.2M472.3,80.79h4.2M646.1,80.79h-4.2M472.3,49.75h4.2M646.1,49.75h-4.2M472.3,18.70h4.2M646.1,18.70h-4.2M511.1,298.1v-4.8M511.1,6.6v4.8M559.3,298.1v-4.8M559.3,6.6v4.8M607.4,298.1v-4.8M607.4,6.6v4.8" stroke="#262626" stroke-width="1.3" fill="none"/><g font-size="10.8" fill="#2a2a2a"><text x="649.7" y="302.50">-1.5</text><text x="649.7" y="271.46">-1.0</text><text x="649.7" y="240.41">-0.5</text><text x="649.7" y="209.37">0.0</text><text x="649.7" y="178.33">0.5</text><text x="649.7" y="147.28">1.0</text><text x="649.7" y="116.24">1.5</text><text x="649.7" y="85.19">2.0</text><text x="649.7" y="54.15">2.5</text><text x="649.7" y="23.10">3.0</text></g><text x="624.5" y="27.6" font-size="23.4" fill="#111" stroke="#111" stroke-width="0.35">B</text><circle cx="486.8" cy="275.2" r="4" fill="#000"/><text x="491.9" y="280.8" font-size="12.2" fill="#111">Obs.</text><text transform="translate(675.5,-0.4) rotate(90)" font-size="12.2" fill="#2a2a2a">Standardized seasonal temperature gradient change (<tspan font-size="10.8">&#916;</tspan>&#8201;)</text><text transform="translate(504.1,310.1) rotate(41)" font-size="11" fill="#2a2a2a">Pres.-His.</text><text transform="translate(552.3,310.1) rotate(41)" font-size="11" fill="#2a2a2a">SSP2-4.5: Fut.-His.</text><text transform="translate(600.4,310.1) rotate(41)" font-size="11" fill="#2a2a2a">SSP5-8.5: Fut.-His.</text></svg>
</body></html>
